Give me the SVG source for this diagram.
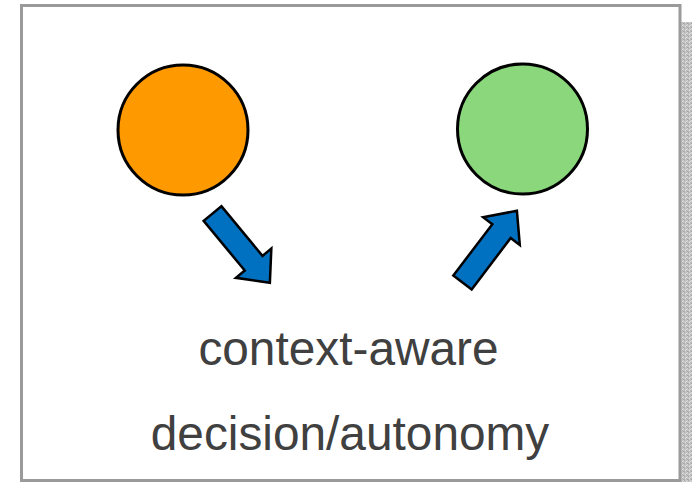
<svg xmlns="http://www.w3.org/2000/svg" width="692" height="482" viewBox="0 0 692 482">
  <style>
    .frame { fill: #ffffff; stroke: #9a9a9a; stroke-width: 3; }
    .node { stroke: #000000; stroke-width: 3; }
    .arrow { fill: #0070c0; stroke: #000000; stroke-width: 2.5; stroke-linejoin: miter; }
    .label { font-family: "Liberation Sans", Arial, sans-serif; font-size: 47.8px; fill: #404040; text-anchor: middle; }
  </style>
  <defs>
    <pattern id="noise" width="4" height="4" patternUnits="userSpaceOnUse">
      <rect width="4" height="4" fill="#c4c4c4"/>
      <rect x="0" y="0" width="1" height="1" fill="#a8a8a8"/>
      <rect x="2" y="1" width="1" height="1" fill="#dedede"/>
      <rect x="1" y="2" width="1" height="1" fill="#e2e2e2"/>
      <rect x="3" y="3" width="1" height="1" fill="#a0a0a0"/>
      <rect x="3" y="0" width="1" height="1" fill="#d6d6d6"/>
      <rect x="0" y="3" width="1" height="1" fill="#b0b0b0"/>
      <rect x="2" y="2" width="1" height="1" fill="#b4b4b4"/>
    </pattern>
    <polygon id="blockArrow" points="0,-11.5 64.5,-11.5 64.5,-23 90,0 64.5,23 64.5,11.5 0,11.5"/>
  </defs>

  <rect x="681" y="22" width="11" height="460" fill="url(#noise)"/>
  <rect class="frame" x="21.5" y="5.5" width="658.5" height="475"/>

  <g id="node-orange">
    <circle class="node" cx="183" cy="130" r="65" fill="#ff9900"/>
  </g>
  <g id="node-green">
    <circle class="node" cx="522.5" cy="129" r="65" fill="#8ad77c"/>
  </g>

  <g id="connectors">
    <use href="#blockArrow" class="arrow" transform="translate(212.5,213.5) rotate(50.4)"/>
    <use href="#blockArrow" class="arrow" transform="translate(462.5,282.5) rotate(-52.8)"/>
  </g>

  <g id="label">
    <text class="label" x="348.5" y="364.5">context-aware</text>
    <text class="label" x="350" y="449.5">decision/autonomy</text>
  </g>
</svg>
